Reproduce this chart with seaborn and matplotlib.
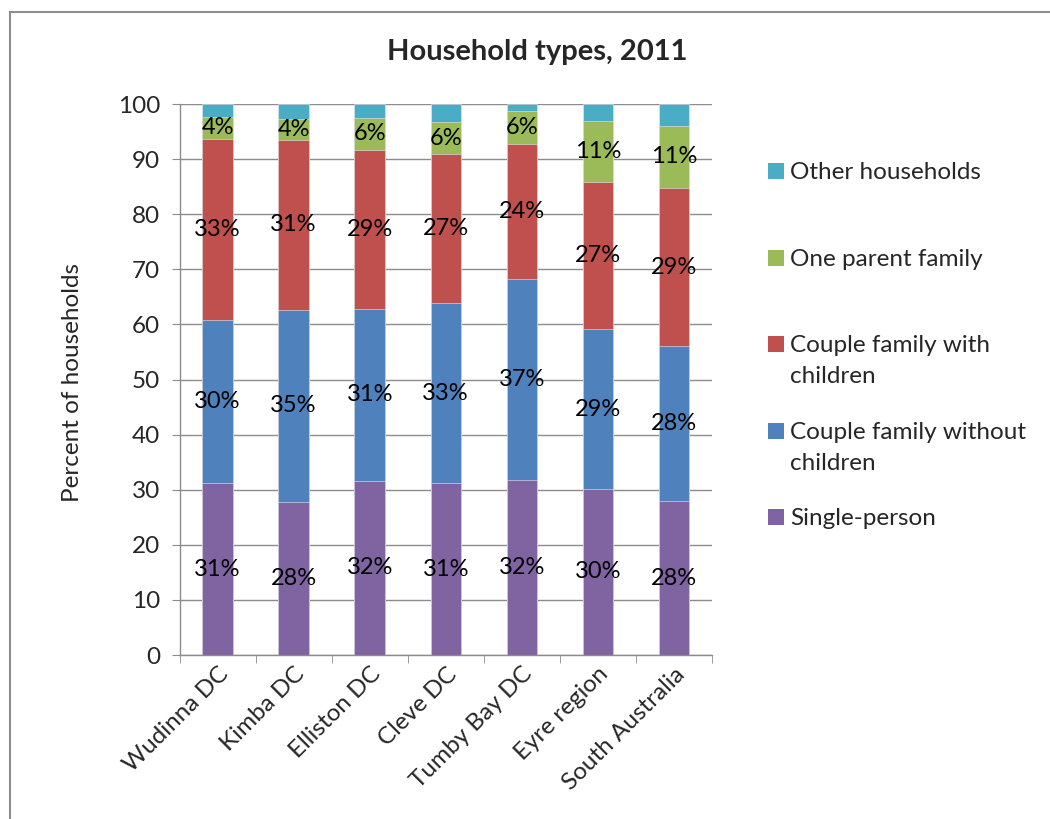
import numpy as np
import pandas as pd
import matplotlib
matplotlib.use("Agg")
import matplotlib.pyplot as plt
import matplotlib.patches as mpatches
import seaborn as sns

# Household type shares (percent) by region, 2011
regions = ["Wudinna DC", "Kimba DC", "Elliston DC", "Cleve DC",
           "Tumby Bay DC", "Eyre region", "South Australia"]
single_person = [31.2, 27.7, 31.6, 31.2, 31.7, 30.2, 27.9]
couple_no_kids = [29.6, 35.0, 31.2, 32.6, 36.6, 28.9, 28.1]
couple_kids = [32.9, 30.8, 28.9, 27.1, 24.4, 26.8, 28.8]
one_parent = [4.0, 3.7, 5.8, 5.8, 6.1, 11.1, 11.3]
other = [2.3, 2.8, 2.5, 3.3, 1.2, 3.0, 3.9]

series_names = ["Single-person", "Couple family without\nchildren",
                "Couple family with\nchildren", "One parent family",
                "Other households"]
series_vals = [single_person, couple_no_kids, couple_kids, one_parent, other]
colours = ["#8064A2", "#4F81BD", "#C0504D", "#9BBB59", "#4BACC6"]
labelled = [True, True, True, True, False]

# legend rows (pixels from top of the figure), same order as the series
legend_rows = [517, 431, 344, 258, 171]

sns.set_style("white")
plt.rcParams['font.family'] = ['Lato', 'DejaVu Sans']

W, H = 1050, 819
fig = plt.figure(figsize=(W / 100, H / 100), dpi=100)
ax = fig.add_axes([0.171, 0.2002, 0.507, 0.6728])

# stacked bars: draw the cumulative totals from the top layer down
cum = np.cumsum(np.array(series_vals), axis=0)
for k in range(len(series_vals) - 1, -1, -1):
    df = pd.DataFrame({"region": regions, "top": cum[k]})
    sns.barplot(data=df, x="region", y="top", color=colours[k], width=0.4,
                saturation=1, edgecolor="#e8e8f0", linewidth=0.4, ax=ax)

# data labels in the middle of each segment
for k, vals in enumerate(series_vals):
    if not labelled[k]:
        continue
    for i, v in enumerate(vals):
        mid = cum[k][i] - v / 2
        ax.text(i, mid, f"{int(v + 0.5)}%", ha="center", va="center",
                fontsize=17, color="black")

ax.set_ylim(0, 100)
ax.set_xlim(-0.5, len(regions) - 0.5)
ax.set_yticks(range(0, 101, 10))
ax.yaxis.grid(True, color="#8c8c8c", linewidth=1)
ax.set_axisbelow(True)
for s in ["top", "right"]:
    ax.spines[s].set_visible(False)
for s in ["left", "bottom"]:
    ax.spines[s].set_color("#8c8c8c")
    ax.spines[s].set_linewidth(1)

ax.set_xlabel("")
ax.set_ylabel("")
ax.tick_params(axis="y", which="major", direction="out", length=6,
               color="#8c8c8c", labelsize=17.5, pad=8, left=True)
ax.tick_params(axis="x", which="major", length=0, labelsize=17.5, pad=6)
ax.set_xticks(np.arange(-0.5, len(regions), 1.0), minor=True)
ax.tick_params(axis="x", which="minor", direction="out", length=6,
               color="#8c8c8c", bottom=True)
plt.setp(ax.get_xticklabels(), rotation=45, ha="right",
         rotation_mode="anchor")

fig.text(0.069, 0.533, "Percent of households", rotation=90,
         ha="center", va="center", fontsize=17.5)
fig.text(0.512, 0.936, "Household types, 2011", ha="center", va="center",
         fontsize=21, fontweight="bold")

# legend, laid out like the spreadsheet one (markers on the first text line)
for k, name in enumerate(series_names):
    yc = legend_rows[k]
    fig.patches.append(mpatches.Rectangle((768 / W, 1 - (yc + 8) / H),
                                          16 / W, 16 / H,
                                          transform=fig.transFigure,
                                          facecolor=colours[k],
                                          edgecolor="none"))
    fig.text(790 / W, 1 - (yc - 9) / H, name, ha="left", va="top",
             fontsize=17.5, linespacing=1.6)

# chart frame
fig.patches.append(mpatches.Rectangle((0.0095, -0.05), 1.2, 1.035,
                                      transform=fig.transFigure,
                                      fill=False, edgecolor="#8c8c8c",
                                      linewidth=1.5))

fig.savefig("out.png", dpi=100)
